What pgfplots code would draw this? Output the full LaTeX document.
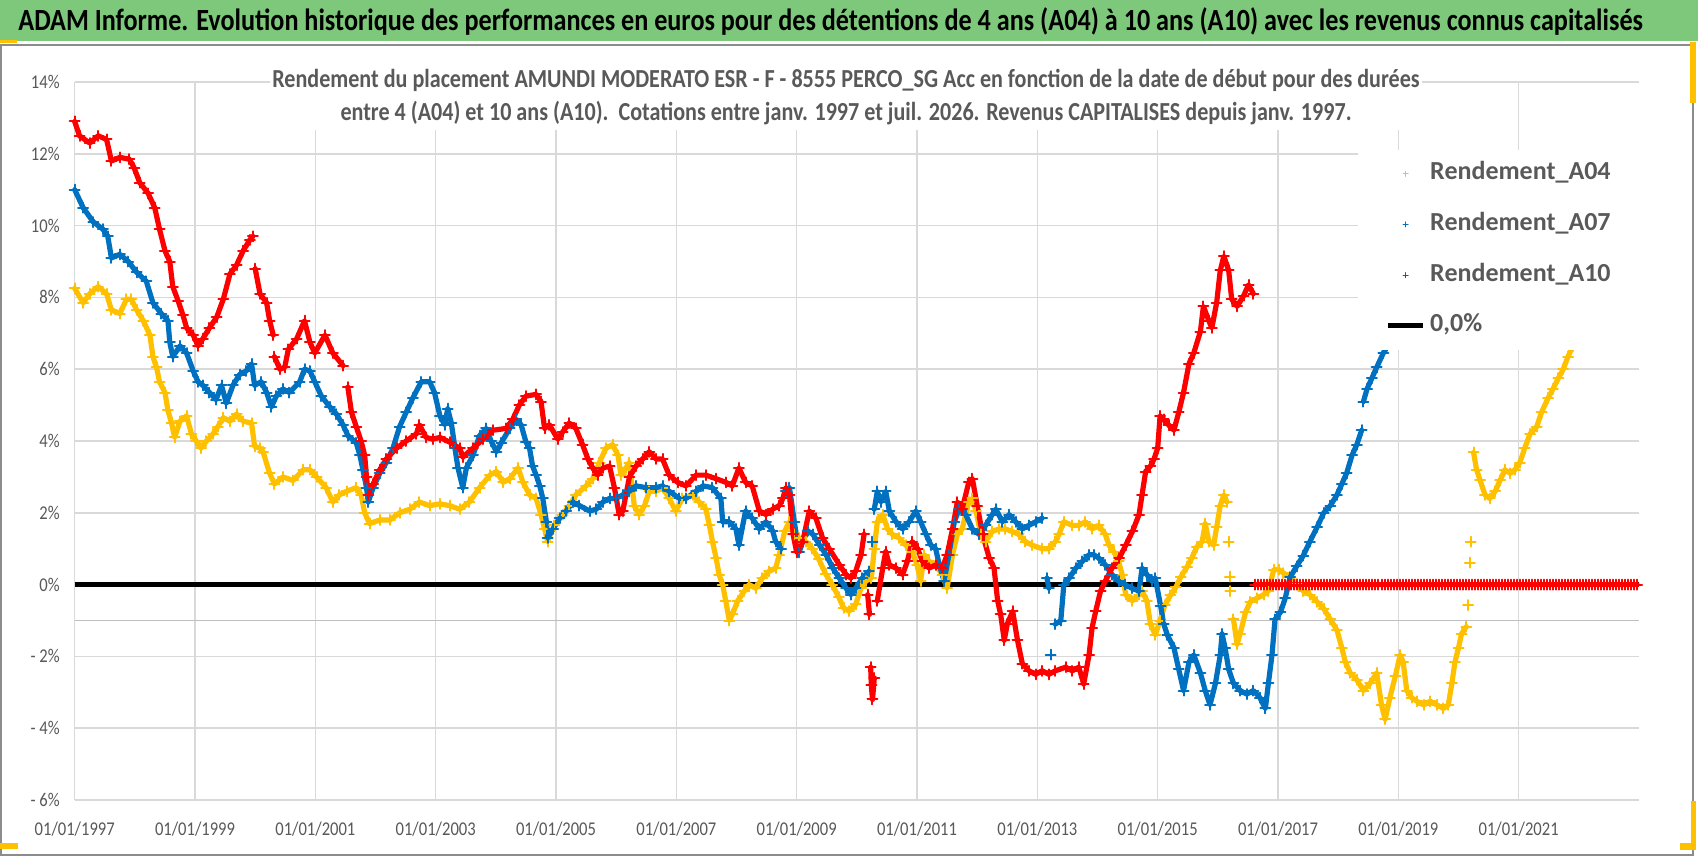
\documentclass[border=0pt]{standalone}
\usepackage{pgfplots}
\pgfplotsset{compat=1.18}
\usepackage{fontspec}
\setmainfont{Carlito}[FakeStretch=0.85]
\newfontfamily\legendfont{Carlito}
\definecolor{cA04}{HTML}{FFC000}
\definecolor{cA07}{HTML}{0070C0}
\definecolor{cA10}{HTML}{FF0000}
\definecolor{gridc}{HTML}{D9D9D9}
\definecolor{axc}{HTML}{BFBFBF}
\definecolor{txt}{HTML}{595959}
\definecolor{banner}{RGB}{126,200,124}
\definecolor{frame}{HTML}{8C8C8C}
\pgfplotsset{ser/.style={#1, line width=2.6pt, line join=round, line cap=round, mark=+, mark size=2.5pt,
  mark options={line width=1pt, solid}, unbounded coords=jump,
  legend image code/.code={\draw[#1,line width=0.5pt] (7.5pt,0pt)--(10pt,0pt) (8.75pt,-1.25pt)--(8.75pt,1.25pt);}}}
\begin{document}
\begin{tikzpicture}
\useasboundingbox (0,0) rectangle (849pt,-428pt);
\begin{scope}[x=0.5pt,y=-0.5pt]
  \fill[white] (0,0) rectangle (1698,856);
  \fill[banner] (0,0) rectangle (1698,41);
  \draw[frame, line width=0.75pt] (0.75,45) rectangle (1693,855);
  \node[anchor=base west, inner sep=0pt, font=\bfseries\fontsize{15.4}{18}\selectfont] at (18,31)
    {ADAM Informe. Evolution historique des performances en euros pour des détentions de 4 ans (A04) à 10 ans (A10) avec les revenus connus capitalisés};
\end{scope}
\begin{axis}[
  at={(37.35pt,-400pt)}, anchor=south west,
  scale only axis, width=782.15pt, height=359pt,
  xmin=1997, xmax=2023, ymin=-6, ymax=14,
  axis line style={draw=none},
  tick style={draw=none},
  xtick={1997,1999,2001,2003,2005,2007,2009,2011,2013,2015,2017,2019,2021},
  xticklabels={01/01/1997,01/01/1999,01/01/2001,01/01/2003,01/01/2005,01/01/2007,01/01/2009,01/01/2011,01/01/2013,01/01/2015,01/01/2017,01/01/2019,01/01/2021},
  ytick={-6,-4,-2,0,2,4,6,8,10,12,14},
  yticklabels={- 6\%,- 4\%,- 2\%,0\%,2\%,4\%,6\%,8\%,10\%,12\%,14\%},
  xmajorgrids, ymajorgrids,
  major grid style={gridc, line width=0.75pt},
  extra y ticks={-1}, extra y tick labels={},
  extra y tick style={ymajorgrids, major grid style={axc, line width=0.9pt}},
  ticklabel style={font=\fontsize{9.75}{11}\selectfont, text=txt},
  xticklabel style={anchor=base, inner sep=0pt, yshift=-17.5pt},
  yticklabel style={anchor=east, inner sep=0pt, xshift=-7.35pt},
  /pgf/number format/assume math mode=true,
  clip=false,
  legend style={at={(rel axis cs:1,0.906)}, anchor=north east, draw=none, fill=white,
    inner xsep=14pt, inner ysep=6pt, font=\legendfont\bfseries\fontsize{13}{15}\selectfont, text=txt,
    row sep=13.3pt, column sep=2.5pt, nodes={inner sep=0pt, text height=9pt, text depth=3pt}},
  legend cell align=left,
]
\addplot[forget plot, black, line width=2.2pt] coordinates {(1997,0) (2023,0)};

\addplot[ser=cA04]
coordinates {
(1997.00,8.25) (1997.14,7.85) (1997.25,8.1) (1997.39,8.3) (1997.53,8.1) (1997.61,7.65) (1997.75,7.55) (1997.86,7.95)
(1997.94,7.95) (1998.03,7.65) (1998.14,7.35) (1998.25,6.95) (1998.30,6.35) (1998.36,6.05) (1998.41,5.65) (1998.50,5.35)
(1998.55,4.85) (1998.61,4.5) (1998.66,4.1) (1998.75,4.55) (1998.86,4.7) (1998.94,4.2) (1999.02,4.0) (1999.10,3.8)
(1999.19,4.0) (1999.30,4.2) (1999.38,4.4) (1999.47,4.65) (1999.58,4.55) (1999.69,4.75) (1999.80,4.55) (1999.94,4.5)
(1999.99,3.85) (2000.08,3.8) (2000.13,3.7) (2000.24,3.1) (2000.32,2.8) (2000.46,3.0) (2000.63,2.9) (2000.80,3.2)
(2000.91,3.2) (2001.02,3.0) (2001.18,2.7) (2001.29,2.3) (2001.40,2.5) (2001.52,2.6) (2001.68,2.7) (2001.76,2.5)
(2001.82,2.0) (2001.90,1.7) (2002.07,1.8) (2002.24,1.8) (2002.40,2.0) (2002.57,2.1) (2002.73,2.3) (2002.90,2.2)
(2003.07,2.25) (2003.23,2.2) (2003.40,2.1) (2003.56,2.3) (2003.73,2.7) (2003.90,3.05) (2004.01,3.15) (2004.12,2.85)
(2004.23,2.95) (2004.37,3.25) (2004.45,2.85) (2004.56,2.5) (2004.67,2.4) (2004.75,1.95) (2004.81,1.55) (2004.86,1.2)
(2004.97,1.65) (2005.11,1.95) (2005.22,2.2) (2005.33,2.5) (2005.50,2.75) (2005.61,2.95) (2005.72,3.4) (2005.83,3.8)
(2005.94,3.9) (2006.03,3.6) (2006.08,3.05) (2006.16,3.25) (2006.22,3.4) (2006.30,2.2) (2006.38,1.95) (2006.47,2.2)
(2006.55,2.6) (2006.66,2.6) (2006.77,2.7) (2006.88,2.4) (2006.99,2.05) (2007.10,2.4) (2007.27,2.5) (2007.38,2.3)
(2007.49,2.1) (2007.55,1.65) (2007.60,1.2) (2007.66,0.75) (2007.71,0.28) (2007.77,0.0) (2007.82,-0.45) (2007.88,-1.0)
(2007.93,-0.83) (2008.02,-0.45) (2008.13,-0.18) (2008.21,0.0) (2008.32,-0.1) (2008.43,0.18) (2008.54,0.37) (2008.65,0.46)
(2008.71,0.83) (2008.80,1.48) (2008.88,1.75) (2008.96,1.4) (2009.04,1.3) (2009.15,1.2) (2009.26,1.0) (2009.37,0.7)
(2009.48,0.3) (2009.59,0.0) (2009.70,-0.35) (2009.78,-0.65) (2009.87,-0.74) (2009.98,-0.55) (2010.07,-0.1) (2010.15,0.1)
(2010.24,0.18) (2010.29,1.0) (2010.34,1.75) (2010.43,1.95) (2010.51,1.55) (2010.59,1.4) (2010.70,1.3) (2010.81,1.1)
(2010.92,0.92) (2011.00,0.55) (2011.06,0.1) (2011.12,0.83) (2011.20,0.65) (2011.31,0.55) (2011.42,0.28) (2011.50,-0.1)
(2011.59,0.83) (2011.67,1.4) (2011.75,1.55) (2011.86,2.3) (2011.92,2.4) (2011.98,2.05) (2012.06,1.4) (2012.14,1.2)
(2012.25,1.48) (2012.36,1.55) (2012.47,1.55) (2012.58,1.48) (2012.69,1.4) (2012.80,1.2) (2012.91,1.1) (2013.08,1.0)
(2013.19,1.0) (2013.30,1.2) (2013.36,1.4) (2013.44,1.75) (2013.58,1.65) (2013.69,1.65) (2013.80,1.75) (2013.91,1.55)
(2014.02,1.65) (2014.13,1.4) (2014.19,1.1) (2014.27,0.92) (2014.35,0.65) (2014.41,0.28) (2014.47,-0.28) (2014.58,-0.45)
(2014.69,-0.28) (2014.74,-0.18) (2014.82,-0.45) (2014.88,-1.1) (2014.96,-1.4) (2015.04,-1.0) (2015.12,-0.57) (2015.21,-0.3)
(2015.30,-0.08) (2015.38,0.2) (2015.49,0.5) (2015.57,0.75) (2015.65,1.05) (2015.74,1.2) (2015.79,1.7) (2015.85,1.2)
(2015.93,1.1) (2015.98,1.6) (2016.04,2.2) (2016.10,2.5) (2016.15,2.3) (2016.16,nan) (2016.18,1.2) (2016.19,nan) (2016.20,0.22) (2016.205,nan) (2016.21,-0.18)
(2016.22,nan) (2016.26,-0.97) (2016.32,-1.66) (2016.37,-1.37) (2016.46,-0.77) (2016.54,-0.48) (2016.65,-0.38) (2016.76,-0.28) (2016.84,-0.18)
(2016.93,0.42) (2017.01,0.42) (2017.09,0.32) (2017.20,0.22) (2017.31,0.02) (2017.42,-0.18) (2017.53,-0.28) (2017.65,-0.48)
(2017.76,-0.67) (2017.87,-0.97) (2017.98,-1.27) (2018.06,-1.76) (2018.12,-2.16) (2018.20,-2.46) (2018.31,-2.65) (2018.42,-2.95)
(2018.53,-2.75) (2018.64,-2.46) (2018.72,-3.35) (2018.78,-3.75) (2018.86,-3.15) (2018.95,-2.55) (2019.03,-1.96) (2019.08,-2.16)
(2019.14,-2.95) (2019.22,-3.15) (2019.31,-3.25) (2019.42,-3.35) (2019.53,-3.25) (2019.64,-3.35) (2019.75,-3.45) (2019.83,-3.35)
(2019.89,-2.75) (2019.94,-2.16) (2020.00,-1.76) (2020.05,-1.37) (2020.13,-1.17) (2020.15,nan) (2020.16,-0.57) (2020.17,nan) (2020.19,0.61) (2020.195,nan) (2020.20,1.2)
(2020.22,nan) (2020.25,3.68) (2020.30,3.2) (2020.36,2.9) (2020.44,2.5) (2020.52,2.4) (2020.61,2.6) (2020.69,2.9) (2020.77,3.2)
(2020.86,3.1) (2020.94,3.2) (2021.02,3.4) (2021.10,3.8) (2021.19,4.2) (2021.30,4.4) (2021.38,4.8) (2021.49,5.2)
(2021.57,5.45) (2021.66,5.75) (2021.74,6.0) (2021.82,6.35) (2021.90,6.65) (2021.95,6.9)
};
\addlegendentry{Rendement\_A04}

\addplot[ser=cA07]
coordinates {
(1997.00,11.0) (1997.14,10.5) (1997.31,10.1) (1997.47,9.9) (1997.55,9.7) (1997.61,9.1) (1997.75,9.2) (1997.89,9.0)
(1998.03,8.7) (1998.19,8.45) (1998.30,7.85) (1998.44,7.55) (1998.55,7.35) (1998.58,6.75) (1998.63,6.35) (1998.75,6.65)
(1998.86,6.45) (1998.97,5.95) (1999.05,5.65) (1999.13,5.55) (1999.24,5.35) (1999.35,5.15) (1999.44,5.55) (1999.52,5.05)
(1999.63,5.55) (1999.74,5.85) (1999.85,5.95) (1999.94,6.15) (1999.99,5.55) (2000.10,5.65) (2000.19,5.35) (2000.27,4.95)
(2000.35,5.25) (2000.46,5.45) (2000.57,5.35) (2000.74,5.65) (2000.82,6.0) (2000.91,5.95) (2000.99,5.65) (2001.10,5.25)
(2001.24,4.95) (2001.35,4.75) (2001.46,4.45) (2001.54,4.15) (2001.68,3.95) (2001.74,3.6) (2001.79,3.2) (2001.85,2.7)
(2001.88,2.3) (2001.96,2.7) (2002.07,3.1) (2002.18,3.4) (2002.29,3.8) (2002.40,4.4) (2002.51,4.8) (2002.62,5.2)
(2002.76,5.65) (2002.90,5.65) (2002.98,5.35) (2003.07,4.7) (2003.15,4.45) (2003.20,4.9) (2003.26,4.5) (2003.32,3.8)
(2003.37,3.25) (2003.45,2.7) (2003.51,3.25) (2003.62,3.6) (2003.73,4.15) (2003.84,4.35) (2003.92,4.0) (2004.01,3.7)
(2004.09,3.95) (2004.23,4.35) (2004.34,4.6) (2004.42,4.45) (2004.50,3.97) (2004.56,3.8) (2004.61,3.3) (2004.67,3.05)
(2004.73,2.75) (2004.78,2.4) (2004.84,1.75) (2004.86,1.3) (2004.95,1.55) (2005.06,1.85) (2005.17,2.05) (2005.28,2.3)
(2005.39,2.2) (2005.56,2.05) (2005.67,2.1) (2005.78,2.3) (2005.89,2.4) (2006.00,2.4) (2006.11,2.5) (2006.22,2.6)
(2006.33,2.75) (2006.50,2.7) (2006.66,2.7) (2006.77,2.75) (2006.88,2.6) (2007.05,2.4) (2007.16,2.4) (2007.33,2.6)
(2007.44,2.75) (2007.60,2.7) (2007.74,2.4) (2007.77,1.75) (2007.88,1.75) (2007.99,1.55) (2008.04,1.1) (2008.15,2.05)
(2008.26,1.85) (2008.38,1.55) (2008.49,1.75) (2008.60,1.5) (2008.65,1.2) (2008.74,1.0) (2008.78,nan) (2008.82,2.6) (2008.88,2.7)
(2008.96,1.75) (2009.04,0.9) (2009.10,1.2) (2009.18,1.5) (2009.27,1.4) (2009.38,1.1) (2009.49,0.83) (2009.60,0.46)
(2009.71,0.18) (2009.82,-0.1) (2009.90,-0.28) (2009.98,-0.1) (2010.09,0.18) (2010.20,0.37) (2010.23,nan) (2010.26,1.2) (2010.27,nan) (2010.29,2.1)
(2010.34,2.6) (2010.40,2.3) (2010.48,2.6) (2010.54,2.05) (2010.65,1.75) (2010.76,1.55) (2010.87,1.75) (2010.98,2.05)
(2011.06,1.75) (2011.15,1.4) (2011.23,1.1) (2011.31,1.0) (2011.37,0.55) (2011.45,0.1) (2011.53,0.83) (2011.62,1.75)
(2011.70,2.1) (2011.81,1.95) (2011.92,1.55) (2012.03,1.4) (2012.14,1.65) (2012.25,1.95) (2012.31,2.1) (2012.42,1.75)
(2012.53,1.95) (2012.64,1.75) (2012.75,1.55) (2012.86,1.65) (2012.97,1.75) (2013.08,1.85) (2013.12,nan) (2013.16,0.18) (2013.19,-0.1)
(2013.20,nan) (2013.22,-1.95) (2013.26,nan) (2013.30,-1.1) (2013.39,-1.0) (2013.44,0.0) (2013.53,0.18) (2013.64,0.46) (2013.75,0.65) (2013.86,0.83)
(2013.94,0.83) (2014.02,0.74) (2014.13,0.55) (2014.24,0.28) (2014.35,0.1) (2014.46,0.0) (2014.57,-0.1) (2014.69,-0.18)
(2014.74,0.46) (2014.82,0.28) (2014.90,0.1) (2014.96,0.18) (2015.05,-0.6) (2015.10,-1.1) (2015.16,-1.4) (2015.27,-1.76)
(2015.35,-2.36) (2015.43,-2.95) (2015.52,-2.16) (2015.60,-1.96) (2015.71,-2.46) (2015.79,-2.95) (2015.87,-3.35) (2015.96,-2.75)
(2016.04,-1.96) (2016.07,-1.37) (2016.12,-1.76) (2016.18,-2.36) (2016.26,-2.75) (2016.37,-2.95) (2016.48,-3.05) (2016.59,-2.95)
(2016.70,-3.15) (2016.79,-3.45) (2016.84,-2.75) (2016.90,-1.96) (2016.95,-0.97) (2017.04,-0.77) (2017.12,-0.38) (2017.20,0.2)
(2017.31,0.51) (2017.42,0.81) (2017.53,1.2) (2017.65,1.6) (2017.76,2.0) (2017.87,2.2) (2017.98,2.5) (2018.06,2.8)
(2018.14,3.1) (2018.23,3.6) (2018.31,3.9) (2018.39,4.3) (2018.40,nan) (2018.42,5.1) (2018.48,5.45) (2018.56,5.75) (2018.64,6.05)
(2018.75,6.45) (2018.81,6.65) (2018.87,6.9)
};
\addlegendentry{Rendement\_A07}

\addplot[ser=cA10]
coordinates {
(1997.00,12.9) (1997.08,12.5) (1997.25,12.3) (1997.39,12.5) (1997.53,12.4) (1997.61,11.8) (1997.75,11.9) (1997.91,11.85)
(1997.99,11.6) (1998.08,11.2) (1998.22,10.9) (1998.33,10.5) (1998.41,9.9) (1998.50,9.3) (1998.58,9.0) (1998.63,8.3)
(1998.72,7.9) (1998.80,7.5) (1998.86,7.15) (1998.97,6.95) (1999.05,6.65) (1999.13,6.85) (1999.24,7.15) (1999.36,7.45)
(1999.47,7.95) (1999.58,8.65) (1999.69,8.9) (1999.80,9.3) (1999.91,9.6) (1999.96,9.7) (1999.98,nan) (2000.00,8.8) (2000.08,8.1)
(2000.19,7.85) (2000.24,7.35) (2000.30,6.95) (2000.31,nan) (2000.32,6.35) (2000.41,6.0) (2000.49,6.05) (2000.55,6.55) (2000.69,6.85)
(2000.82,7.35) (2000.91,6.75) (2000.99,6.45) (2001.16,6.95) (2001.29,6.45) (2001.46,6.1) (2001.50,nan) (2001.54,5.5) (2001.60,4.8)
(2001.68,4.4) (2001.76,4.0) (2001.82,3.6) (2001.85,3.0) (2001.88,2.5) (2001.96,2.8) (2002.07,3.2) (2002.18,3.5)
(2002.35,3.8) (2002.51,4.0) (2002.68,4.2) (2002.73,4.45) (2002.84,4.1) (2002.95,4.05) (2003.07,4.1) (2003.23,3.97)
(2003.40,3.8) (2003.45,3.55) (2003.62,3.8) (2003.79,4.05) (2003.95,4.3) (2004.17,4.35) (2004.28,4.6) (2004.39,5.0)
(2004.50,5.25) (2004.67,5.3) (2004.75,5.1) (2004.81,4.35) (2004.89,4.45) (2005.03,4.05) (2005.11,4.25) (2005.22,4.5)
(2005.33,4.35) (2005.44,3.9) (2005.53,3.5) (2005.61,3.25) (2005.69,3.05) (2005.78,3.25) (2005.89,3.3) (2005.97,2.7)
(2006.05,1.95) (2006.11,2.05) (2006.22,3.0) (2006.33,3.3) (2006.44,3.5) (2006.55,3.7) (2006.66,3.5) (2006.77,3.5)
(2006.88,3.05) (2007.02,2.85) (2007.16,2.75) (2007.33,3.05) (2007.49,3.05) (2007.66,2.95) (2007.82,2.85) (2007.93,2.75)
(2008.04,3.25) (2008.15,2.85) (2008.26,2.75) (2008.38,2.05) (2008.49,1.95) (2008.60,2.1) (2008.71,2.2) (2008.77,2.4)
(2008.82,2.7) (2008.88,2.5) (2008.94,1.4) (2009.00,0.9) (2009.10,1.2) (2009.21,2.05) (2009.32,1.85) (2009.43,1.3)
(2009.54,1.0) (2009.71,0.55) (2009.82,0.28) (2009.90,0.18) (2009.98,0.37) (2010.07,0.83) (2010.12,1.4) (2010.15,nan) (2010.18,-0.28)
(2010.21,-0.83) (2010.22,nan) (2010.23,-2.3) (2010.24,-2.8) (2010.26,-3.2) (2010.29,-2.6) (2010.31,nan) (2010.34,-0.45) (2010.43,0.46) (2010.48,0.92)
(2010.54,0.55) (2010.65,0.46) (2010.76,0.28) (2010.84,0.65) (2010.92,1.2) (2011.01,1.0) (2011.09,0.65) (2011.20,0.46)
(2011.31,0.55) (2011.42,0.46) (2011.50,0.83) (2011.59,1.55) (2011.67,2.3) (2011.75,2.1) (2011.86,2.85) (2011.92,2.95)
(2012.00,2.2) (2012.09,1.4) (2012.20,0.74) (2012.28,0.46) (2012.34,-0.45) (2012.39,-0.83) (2012.45,-1.55) (2012.50,-1.1)
(2012.59,-0.74) (2012.67,-1.55) (2012.75,-2.2) (2012.86,-2.4) (2012.97,-2.5) (2013.08,-2.4) (2013.19,-2.5) (2013.30,-2.4)
(2013.47,-2.3) (2013.58,-2.4) (2013.69,-2.3) (2013.77,-2.77) (2013.86,-1.95) (2013.91,-1.2) (2013.97,-0.74) (2014.05,-0.18)
(2014.13,0.1) (2014.24,0.46) (2014.36,0.74) (2014.47,1.1) (2014.58,1.48) (2014.69,1.95) (2014.74,2.5) (2014.80,3.15)
(2014.88,3.3) (2014.94,3.5) (2015.00,3.8) (2015.04,4.7) (2015.10,4.6) (2015.18,4.45) (2015.27,4.3) (2015.35,4.8)
(2015.43,5.35) (2015.52,6.15) (2015.60,6.45) (2015.71,7.05) (2015.76,7.75) (2015.85,7.35) (2015.90,7.15) (2015.98,7.85)
(2016.04,8.75) (2016.10,9.15) (2016.18,8.75) (2016.23,7.95) (2016.32,7.75) (2016.43,8.05) (2016.51,8.35) (2016.59,8.1)
(2016.60,nan)
(2016.62,0) (2016.67,0) (2016.72,0) (2016.77,0) (2016.82,0) (2016.87,0) (2016.92,0) (2016.97,0)
(2017.02,0) (2017.07,0) (2017.12,0) (2017.17,0) (2017.22,0) (2017.27,0) (2017.32,0) (2017.37,0) (2017.42,0) (2017.47,0)
(2017.52,0) (2017.57,0) (2017.62,0) (2017.67,0) (2017.72,0) (2017.77,0) (2017.82,0) (2017.87,0) (2017.92,0) (2017.97,0)
(2018.02,0) (2018.07,0) (2018.12,0) (2018.17,0) (2018.22,0) (2018.27,0) (2018.32,0) (2018.37,0) (2018.42,0) (2018.47,0)
(2018.52,0) (2018.57,0) (2018.62,0) (2018.67,0) (2018.72,0) (2018.77,0) (2018.82,0) (2018.87,0) (2018.92,0) (2018.97,0)
(2019.02,0) (2019.07,0) (2019.12,0) (2019.17,0) (2019.22,0) (2019.27,0) (2019.32,0) (2019.37,0) (2019.42,0) (2019.47,0)
(2019.52,0) (2019.57,0) (2019.62,0) (2019.67,0) (2019.72,0) (2019.77,0) (2019.82,0) (2019.87,0) (2019.92,0) (2019.97,0)
(2020.02,0) (2020.07,0) (2020.12,0) (2020.17,0) (2020.22,0) (2020.27,0) (2020.32,0) (2020.37,0) (2020.42,0) (2020.47,0)
(2020.52,0) (2020.57,0) (2020.62,0) (2020.67,0) (2020.72,0) (2020.77,0) (2020.82,0) (2020.87,0) (2020.92,0) (2020.97,0)
(2021.02,0) (2021.07,0) (2021.12,0) (2021.17,0) (2021.22,0) (2021.27,0) (2021.32,0) (2021.37,0) (2021.42,0) (2021.47,0)
(2021.52,0) (2021.57,0) (2021.62,0) (2021.67,0) (2021.72,0) (2021.77,0) (2021.82,0) (2021.87,0) (2021.92,0) (2021.97,0)
(2022.02,0) (2022.07,0) (2022.12,0) (2022.17,0) (2022.22,0) (2022.27,0) (2022.32,0) (2022.37,0) (2022.42,0) (2022.47,0)
(2022.52,0) (2022.57,0) (2022.62,0) (2022.67,0) (2022.72,0) (2022.77,0) (2022.82,0) (2022.87,0) (2022.92,0) (2022.97,0)
};
\addlegendentry{Rendement\_A10}

\addlegendimage{black, line width=2.2pt, legend image code/.code={\draw[black,line width=2.2pt] (0pt,0pt)--(17.5pt,0pt);}}
\addlegendentry{0,0\%}
\end{axis}
\begin{scope}[x=0.5pt,y=-0.5pt]
  \fill[white] (270,58) rectangle (1422,130);
  \node[anchor=base, inner sep=0pt, text=txt, font=\bfseries\fontsize{13}{16}\selectfont] at (846,88)
    {Rendement du placement AMUNDI MODERATO ESR - F - 8555 PERCO\_SG Acc en fonction de la date de début pour des durées};
  \node[anchor=base, inner sep=0pt, text=txt, font=\bfseries\fontsize{13}{16}\selectfont] at (846,120)
    {entre 4 (A04) et 10 ans (A10).\ \ Cotations entre janv. 1997 et juil. 2026. Revenus CAPITALISES depuis janv. 1997.};
  \fill[cA04] (0,40) rectangle (17,43);
  \fill[cA04] (0,843) rectangle (18,849);
  \fill[cA04] (1690,42) rectangle (1696,103);
  \fill[cA04] (1691,801) rectangle (1696,850);
  \fill[cA04] (1680,843) rectangle (1696,850);
\end{scope}
\end{tikzpicture}
\end{document}
